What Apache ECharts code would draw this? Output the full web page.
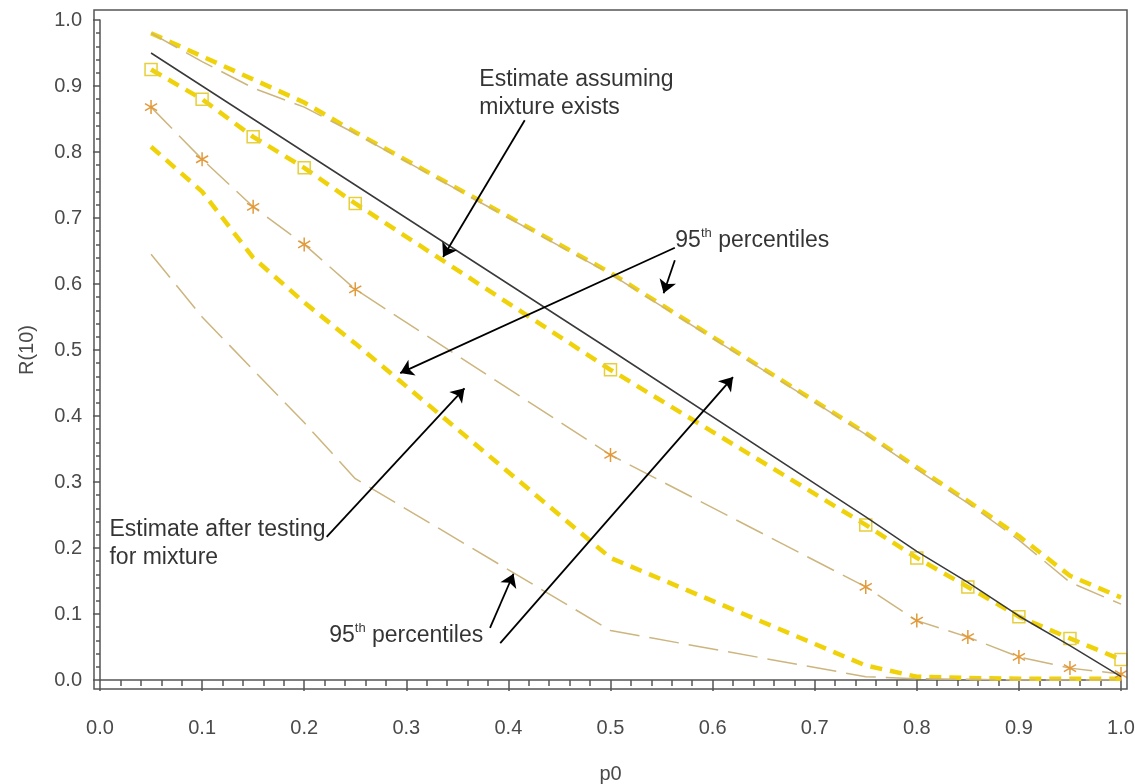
<!DOCTYPE html>
<html>
<head>
<meta charset="utf-8">
<script src="https://cdn.jsdelivr.net/npm/echarts@6/dist/echarts.min.js"></script>
<style>
html,body{margin:0;padding:0;background:#fff;}
#chart{width:1135px;height:784px;}
</style>
</head>
<body>
<div id="chart"></div>
<script>
// ---- data ----
const p0 = [0.05, 0.10, 0.15, 0.20, 0.25, 0.50, 0.75, 0.80, 0.85, 0.90, 0.95, 1.00];
const estMixture   = [0.950, 0.900, 0.850, 0.800, 0.750, 0.500, 0.247, 0.195, 0.148, 0.097, 0.052, 0.005];
const upperYellow  = [0.980, 0.945, 0.910, 0.875, 0.830, 0.617, 0.374, 0.322, 0.271, 0.218, 0.158, 0.125];
const upperTan     = [0.980, 0.937, 0.897, 0.868, 0.828, 0.615, 0.372, 0.319, 0.268, 0.212, 0.148, 0.115];
const squareSeries = [0.925, 0.880, 0.823, 0.776, 0.722, 0.470, 0.235, 0.185, 0.141, 0.096, 0.063, 0.031];
const starSeries   = [0.868, 0.789, 0.717, 0.660, 0.592, 0.341, 0.141, 0.090, 0.065, 0.035, 0.018, 0.009];
const lowerYellow  = [0.808, 0.740, 0.640, 0.572, 0.510, 0.185, 0.022, 0.005, 0.003, 0.002, 0.002, 0.002];
const lowestTan    = [0.645, 0.550, 0.470, 0.390, 0.305, 0.075, 0.005, 0.002, 0.001, 0.000, 0.000, 0.000];

const xTicks = [0.0, 0.1, 0.2, 0.3, 0.4, 0.5, 0.6, 0.7, 0.8, 0.9, 1.0];
const yTicks = [0.0, 0.1, 0.2, 0.3, 0.4, 0.5, 0.6, 0.7, 0.8, 0.9, 1.0];

// annotations (data coordinates)
const noteTexts = [
  'Estimate assuming\nmixture exists',
  '{b|95}{s|th}{b| percentiles}',
  'Estimate after testing\nfor mixture',
  '{b|95}{s|th}{b| percentiles}'
];
const noteAnchors = [[0.371, 0.889], [0.563, 0.665], [0.0088, 0.206], [0.224, 0.067]];
const arrowStarts = [[0.416, 0.848], [0.563, 0.655], [0.563, 0.636], [0.222, 0.217], [0.382, 0.079], [0.392, 0.056]];
const arrowEnds   = [[0.336, 0.641], [0.294, 0.465], [0.552, 0.586], [0.357, 0.442], [0.405, 0.161], [0.620, 0.459]];

// ---- build ----
const FONT = "'Liberation Sans', Arial, Helvetica, sans-serif";
const YEL = '#F0D20A';
const TAN = '#CDB57E';
const pair = arr => p0.map((x, i) => [x, arr[i]]);

const starPath = 'path://M0,-10L0,10M-8.66,-5L8.66,5M-8.66,5L8.66,-5';

const chart = echarts.init(document.getElementById('chart'), null, {renderer: 'canvas'});

const axisTextStyle = {color: '#4a4a4a', fontSize: 20, fontFamily: FONT};

const option = {
  backgroundColor: '#fff',
  animation: false,
  grid: {left: 100, right: 14, top: 20, bottom: 104, containLabel: false, outerBoundsMode: 'none'},
  xAxis: {
    type: 'value', min: 0, max: 1, interval: 0.1, offset: 9,
    name: 'p0', nameLocation: 'middle', nameGap: 75,
    nameTextStyle: axisTextStyle,
    axisLine: {show: true, lineStyle: {color: '#555', width: 1.5}},
    axisTick: {show: true, length: 11, lineStyle: {color: '#555', width: 1.5}},
    minorTick: {show: true, splitNumber: 5, length: 6, lineStyle: {color: '#555', width: 1.5}},
    axisLabel: Object.assign({margin: 29, formatter: v => {
      const t = xTicks.find(k => Math.abs(k - v) < 1e-6);
      return t === undefined ? '' : t.toFixed(1);
    }}, axisTextStyle),
    splitLine: {show: false}
  },
  yAxis: {
    type: 'value', min: 0, max: 1, interval: 0.1, offset: 6,
    name: 'R(10)', nameLocation: 'middle', nameGap: 57, nameRotate: 90,
    nameTextStyle: axisTextStyle,
    axisLine: {show: true, lineStyle: {color: '#555', width: 1.5}},
    axisTick: {show: true, length: 7, lineStyle: {color: '#555', width: 1.5}},
    minorTick: {show: true, splitNumber: 5, length: 4, lineStyle: {color: '#555', width: 1.5}},
    axisLabel: Object.assign({margin: 12, formatter: v => {
      const t = yTicks.find(k => Math.abs(k - v) < 1e-6);
      return t === undefined ? '' : t.toFixed(1);
    }}, axisTextStyle),
    splitLine: {show: false}
  },
  graphic: [{
    type: 'rect', silent: true, z: 100,
    shape: {x: 94, y: 10, width: 1033, height: 679},
    style: {fill: 'none', stroke: '#555', lineWidth: 1.5}
  }],
  series: [
    {
      name: 'upper 95th (yellow)', type: 'line', data: pair(upperYellow), showSymbol: false, z: 2,
      lineStyle: {color: YEL, width: 4.5, type: [12, 8]}
    },
    {
      name: 'upper 95th (tan)', type: 'line', data: pair(upperTan), showSymbol: false, z: 3,
      lineStyle: {color: TAN, width: 1.5, type: [30, 10]}
    },
    {
      name: 'lowest 95th', type: 'line', data: pair(lowestTan), showSymbol: false, z: 3,
      lineStyle: {color: TAN, width: 1.5, type: [30, 10]}
    },
    {
      name: 'lower 95th', type: 'line', data: pair(lowerYellow), showSymbol: false, z: 2,
      lineStyle: {color: YEL, width: 4.5, type: [12, 8]}
    },
    {
      name: 'squares', type: 'line', data: pair(squareSeries), z: 4,
      symbol: 'rect', symbolSize: 12, showAllSymbol: true,
      itemStyle: {color: 'rgba(0,0,0,0)', borderColor: '#E6CF3C', borderWidth: 1.5},
      lineStyle: {color: YEL, width: 4.5, type: [12, 8]}
    },
    {
      name: 'stars', type: 'line', data: pair(starSeries), z: 4,
      symbol: starPath, symbolSize: 14, symbolKeepAspect: true, showAllSymbol: true,
      itemStyle: {color: 'rgba(0,0,0,0)', borderColor: '#E39A3A', borderWidth: 1.5},
      lineStyle: {color: TAN, width: 1.5, type: [30, 10]}
    },
    {
      name: 'Estimate assuming mixture exists', type: 'line', data: pair(estMixture), showSymbol: false, z: 5,
      lineStyle: {color: '#3a3a3a', width: 1.5}
    },
    {
      name: 'arrows', type: 'lines', coordinateSystem: 'cartesian2d', z: 10, silent: true,
      symbol: ['none', 'arrow'], symbolSize: 13,
      lineStyle: {color: '#000', width: 1.8, opacity: 1, curveness: 0},
      data: arrowStarts.map((s, i) => ({coords: [s, arrowEnds[i]]}))
    },
    {
      name: 'notes', type: 'scatter', z: 11, silent: true,
      symbolSize: 1, itemStyle: {color: 'rgba(0,0,0,0)'},
      data: noteAnchors.map((a, i) => ({value: a, name: noteTexts[i]})),
      label: {
        show: true, position: 'right', distance: 0, align: 'left', verticalAlign: 'middle',
        formatter: p => p.name,
        color: '#000', fontSize: 23, lineHeight: 28, fontFamily: FONT,
        rich: {
          b: {fontSize: 23, lineHeight: 28, color: '#000', fontFamily: FONT},
          s: {fontSize: 13, lineHeight: 20, verticalAlign: 'top', color: '#000', fontFamily: FONT}
        }
      }
    }
  ]
};
chart.setOption(option);
</script>
</body>
</html>
